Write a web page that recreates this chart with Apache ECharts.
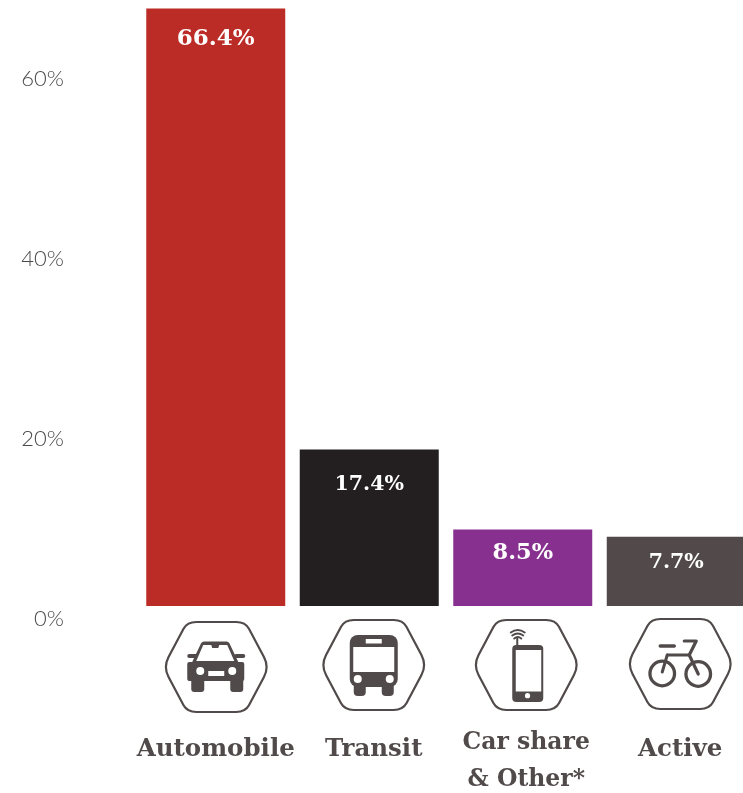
<!DOCTYPE html>
<html>
<head>
<meta charset="utf-8">
<style>html,body{margin:0;padding:0;background:#fff;overflow:hidden}#c{width:743px;height:793px}</style>
<script src="https://cdn.jsdelivr.net/npm/echarts@6/dist/echarts.min.js"></script>
</head>
<body>
<div id="c"></div>
<script>
const categories = ['Automobile', 'Transit', 'Car share\n& Other*', 'Active'];
const values = [66.4, 17.4, 8.5, 7.7];
const valueLabels = ['66.4%', '17.4%', '8.5%', '7.7%'];
const yTicks = [0, 20, 40, 60];
const barColors = ['#bc2c26', '#231f20', '#87308f', '#524a4a'];

const INK = '#514a4a';
const labelDistance = [19, 25, 12, 15];
const labelSize = [23, 20.5, 22.5, 20.5];
const catShift = [0, 9, 7, 8];
const catTop = [9, 9, 2, 9];
const catSize = [24.5, 24.5, 23.5, 24.5];
const iconOffset = [[0.5, 61], [4.5, 59], [3.5, 59], [4, 58]];

const HEX = 'M-20 -45 L20 -45 Q29 -45 32.7 -38.3 L47.7 -10 Q53 0 47.7 10 L32.7 38.3 Q29 45 20 45 L-20 45 Q-29 45 -32.7 38.3 L-47.7 10 Q-53 0 -47.7 -10 L-32.7 -38.3 Q-29 -45 -20 -45 Z';

function P(d, style) {
  const r = echarts.graphic.makePath(d).getBoundingRect();
  return { type: 'path', shape: { pathData: d, x: r.x, y: r.y, width: r.width, height: r.height }, style: style };
}
const solid = { fill: INK };
const paper = { fill: '#fff' };
const line = w => ({ fill: 'none', stroke: INK, lineWidth: w, lineCap: 'round', lineJoin: 'round' });
const dot = (cx, cy, r, s) => ({ type: 'circle', shape: { cx, cy, r }, style: s });
const box = (x, y, width, height, r, s) => ({ type: 'rect', shape: { x, y, width, height, r }, style: s });
const poly = (points, w) => ({ type: 'polyline', shape: { points }, style: line(w) });

const icons = [
  [ // car
    box(-29, -5, 57, 19, 2, solid),
    box(-25, 10, 13, 15, 3, solid),
    box(14, 10, 13, 15, 3, solid),
    box(-29, -13, 11, 4, 2, solid),
    box(18, -13, 11, 4, 2, solid),
    P('M-12 -25.5 L10 -25.5 Q13 -25.5 14 -22 L23 -3 L-25 -3 L-16 -22 Q-15 -25.5 -12 -25.5 Z', solid),
    P('M-13 -22 L-5 -22 L-4 -19 L2 -19 L3 -22 L11 -22 L18 -6 L-20 -6 Z', paper),
    dot(-16, 4, 4, paper),
    dot(16, 4, 4, paper),
    box(-8, 4, 16, 5, 0, paper)
  ],
  [ // bus
    box(-24, -30, 48, 52, 8, solid),
    box(-20, 18, 12, 13, 4, solid),
    box(8, 18, 12, 13, 4, solid),
    box(-20.5, -18, 41, 25, 0, paper),
    box(-8, -26, 16, 4.5, 0, paper),
    dot(-16, 14, 4, paper),
    dot(16, 14, 4, paper)
  ],
  [ // phone
    box(-14, -20, 31, 57, 4, solid),
    box(-10.5, -15, 25.5, 41.5, 0, paper),
    dot(1.3, 30.7, 2.6, paper),
    poly([[-9, -20], [-9, -27]], 2),
    P('M-12 -26.5 Q-8.5 -29.5 -5 -26.5', line(2)),
    P('M-14 -29.5 Q-8.5 -33.5 -3 -29.5', line(2)),
    P('M-15.5 -32.5 Q-8.5 -37.5 -1.5 -32.5', line(2))
  ],
  [ // bicycle
    dot(-18, 9.5, 12.3, { fill: 'none', stroke: INK, lineWidth: 3.3 }),
    dot(18, 10, 12.3, { fill: 'none', stroke: INK, lineWidth: 3.3 }),
    poly([[-20, -18], [-6, -18]], 3.5),
    poly([[4, -23], [16, -23], [9, -9], [18, 10]], 3.2),
    poly([[-13, -9], [9, -9]], 3),
    poly([[-13, -9], [-18, 8]], 3)
  ]
];

const chart = echarts.init(document.getElementById('c'), null, { renderer: 'canvas' });
chart.setOption({
  animation: false,
  backgroundColor: '#fff',
  grid: { left: 139, width: 614, top: -114, height: 720, containLabel: false, outerBoundsMode: 'none' },
  xAxis: {
    type: 'category',
    data: categories.map((c, i) => ({
      value: c,
      textStyle: { padding: [catTop[i], 0, 0, catShift[i]], fontSize: catSize[i] }
    })),
    axisLine: { show: false },
    axisTick: { show: false },
    axisLabel: {
      interval: 0,
      margin: 116,
      verticalAlign: 'top',
      lineHeight: 37,
      fontFamily: '"DejaVu Serif"',
      fontWeight: 'bold',
      fontSize: 24.5,
      color: INK
    }
  },
  yAxis: {
    type: 'value',
    min: 0,
    max: 80,
    interval: 20,
    splitLine: { show: false },
    axisLine: { show: false },
    axisTick: { show: false },
    axisLabel: {
      margin: 75,
      showMaxLabel: false,
      fontFamily: 'Lato',
      fontWeight: 300,
      fontSize: 22,
      lineHeight: 26,
      color: '#4a4a4c',
      verticalAlign: 'top',
      formatter: v => yTicks.includes(v) ? v + '%' : ''
    }
  },
  series: [
    {
      type: 'bar',
      barWidth: 139,
      silent: true,
      data: values.map((v, i) => ({
        value: v,
        itemStyle: { color: barColors[i] },
        label: {
          show: true,
          position: 'insideTop',
          distance: labelDistance[i],
          fontSize: labelSize[i],
          formatter: valueLabels[i]
        }
      })),
      label: {
        fontFamily: '"DejaVu Serif"',
        fontWeight: 'bold',
        color: '#fff'
      }
    },
    {
      type: 'custom',
      silent: true,
      clip: false,
      data: categories.map((c, i) => [i, 0]),
      renderItem: (params, api) => {
        const i = api.value(0);
        const pt = api.coord([i, 0]);
        return {
          type: 'group',
          x: pt[0] + iconOffset[i][0],
          y: pt[1] + iconOffset[i][1],
          children: [P(HEX, { fill: '#fff', stroke: INK, lineWidth: 2.2 })].concat(icons[i])
        };
      }
    }
  ]
});
</script>
</body>
</html>
